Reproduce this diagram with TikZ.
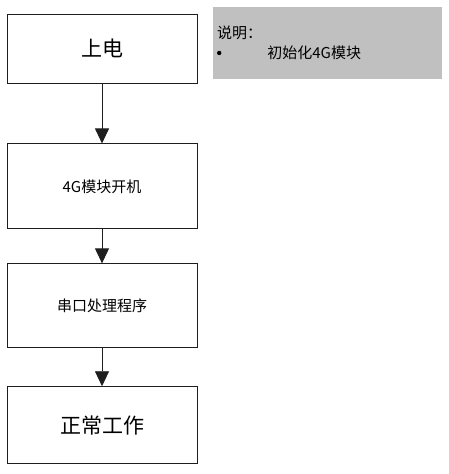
\documentclass[tikz,border=0pt]{standalone}
\usepackage{fontspec}
\setmainfont{Noto Sans CJK SC}
\usetikzlibrary{arrows.meta,positioning}
\definecolor{notegray}{RGB}{192,192,192}
\definecolor{linegray}{RGB}{30,30,30}

\begin{document}
\begin{tikzpicture}[
    node distance=60pt,
    box/.style={draw=linegray, line width=0.9pt, minimum width=190pt, align=center, inner sep=0pt},
    note/.style={fill=notegray, minimum width=229pt, minimum height=72pt, text width=221pt, align=left, inner sep=4pt, font=\fontsize{15pt}{20pt}\selectfont},
    arr/.style={-{Triangle[width=14pt,length=15pt]}, line width=0.9pt, draw=linegray}
]
\useasboundingbox (0,0) rectangle (449pt,-474pt);
\node[box, minimum height=69pt, font=\fontsize{21pt}{24pt}\selectfont] (power) at (102pt,-48.5pt) {上电};
\node[box, minimum height=85pt, font=\fontsize{15pt}{18pt}\selectfont, below=60pt of power] (boot) {4G模块开机};
\node[box, minimum height=84pt, font=\fontsize{15pt}{18pt}\selectfont, below=34pt of boot] (uart) {串口处理程序};
\node[box, minimum height=77pt, font=\fontsize{21pt}{24pt}\selectfont, below=38pt of uart] (work) {正常工作};
\node[note] (remark) at (327.5pt,-43pt) {说明：\\\raisebox{3.5pt}{\tikz\fill (0,0) circle (2.2pt);}\hspace{46pt}初始化4G模块};

\draw[arr] (power) -- (boot);
\draw[arr] (boot) -- (uart);
\draw[arr] (uart) -- (work);
\end{tikzpicture}
\end{document}
